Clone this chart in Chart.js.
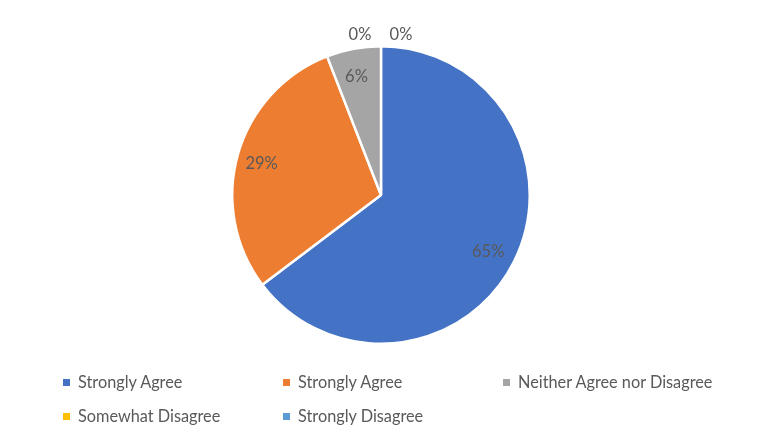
<!DOCTYPE html>
<html>
<head>
<meta charset="utf-8">
<script src="https://cdn.jsdelivr.net/npm/chart.js@4/dist/chart.umd.min.js"></script>
<style>
  html,body{margin:0;padding:0;background:#fff;}
  #wrap{position:relative;width:768px;height:432px;}
  #legend{position:absolute;left:0;top:0;width:768px;height:432px;pointer-events:none;
    font-family:Lato,"Open Sans",sans-serif;font-size:16.3px;color:#595959;}
  .li{position:absolute;white-space:nowrap;line-height:18px;}
  .mk{display:inline-block;width:7px;height:7px;margin-right:8px;vertical-align:middle;position:relative;top:-1px;}
</style>
</head>
<body>
<div id="wrap">
  <canvas id="c" width="768" height="432"></canvas>
  <div id="legend"></div>
</div>
<script>
const categories = ["Strongly Agree","Strongly Agree","Neither Agree nor Disagree","Somewhat Disagree","Strongly Disagree"];
const values = [64.7, 29.4, 5.9, 0, 0];
const colors = ["#4472C4","#ED7D31","#A5A5A5","#FFC000","#5B9BD5"];

const labelPlugin = {
  id:'pieLabels',
  afterDatasetsDraw(chart){
    const ctx = chart.ctx;
    const meta = chart.getDatasetMeta(0);
    const ds = chart.data.datasets[0];
    const total = ds.data.reduce((a,b)=>a+b,0);
    ctx.save();
    ctx.font = '16.5px Lato, "Open Sans", sans-serif';
    ctx.fillStyle = '#595959';
    ctx.textAlign = 'center';
    ctx.textBaseline = 'middle';
    let zeroIdx = 0;
    meta.data.forEach((arc,i)=>{
      const v = ds.data[i];
      const txt = Math.round(v/total*100) + '%';
      const {x,y,startAngle,endAngle,outerRadius} = arc.getProps(['x','y','startAngle','endAngle','outerRadius'],true);
      if (v === 0) {
        const a = startAngle;
        const r = outerRadius + 12;
        const dx = (zeroIdx === 0 ? -21 : 20);
        ctx.fillText(txt, x + Math.cos(a)*r + dx, y + Math.sin(a)*r);
        zeroIdx++;
      } else {
        const a = (startAngle+endAngle)/2;
        const r = outerRadius*0.82;
        ctx.fillText(txt, x + Math.cos(a)*r - 2, y + Math.sin(a)*r + 2);
      }
    });
    ctx.restore();
  }
};

new Chart(document.getElementById('c'), {
  type:'pie',
  data:{labels:categories, datasets:[{data:values, backgroundColor:colors, borderColor:'#ffffff', borderWidth:2.5}]},
  options:{
    responsive:false, animation:false, devicePixelRatio:1,
    layout:{padding:{top:45,bottom:87,left:0,right:6}},
    plugins:{legend:{display:false}, tooltip:{enabled:false}}
  },
  plugins:[labelPlugin]
});

// HTML legend laid out in a 3-column grid
const leg = document.getElementById('legend');
const colX = [63, 283, 503];
const rowY = [373, 407];
categories.forEach((c,i)=>{
  const d = document.createElement('div');
  d.className = 'li';
  d.style.left = colX[i%3] + 'px';
  d.style.top = rowY[Math.floor(i/3)] + 'px';
  d.innerHTML = '<span class="mk" style="background:'+colors[i]+'"></span>';
  d.appendChild(document.createTextNode(c));
  leg.appendChild(d);
});
</script>
</body>
</html>
